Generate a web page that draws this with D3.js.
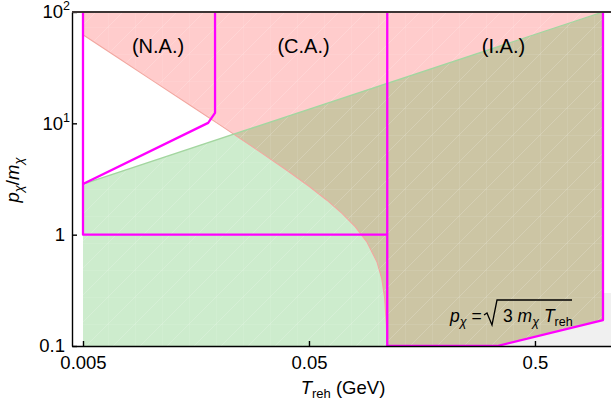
<!DOCTYPE html>
<html>
<head>
<meta charset="utf-8">
<script src="https://cdn.jsdelivr.net/npm/d3@7"></script>
<style>
body { margin: 0; background: #fff; }
svg { display: block; font-family: "Liberation Sans", Arial, Helvetica, sans-serif; }
.axis text { font-size: 18.5px; fill: #000; }
.axis path, .axis line { stroke: #000; stroke-width: 1.4; }
.mag { fill: none; stroke: #ff00ff; stroke-width: 2.3; stroke-linejoin: round; }
</style>
</head>
<body>
<svg id="chart" width="611" height="405"></svg>
<script>
// boundary of the red region [T_reh (GeV), p/m]
const redEdge = [[0.005, 62.4], [0.007, 39.8], [0.01, 24.7], [0.015, 14.4], [0.02, 9.78],
                 [0.03, 5.63], [0.04, 3.77], [0.05, 2.72], [0.06, 2.04], [0.07, 1.556],
                 [0.08, 1.181], [0.09, 0.866], [0.1, 0.567], [0.105, 0.40], [0.108, 0.275],
                 [0.11, 0.156], [0.1106, 0.1]];
// upper edge of the green region
const greenEdge = [[0.005, 2.85], [1, 100]];
// lower cut  p = sqrt(3 m T)
const cutEdge = [[0.34, 0.1], [1, 0.171]];

// magenta region outlines
const naOuter = [[0.005, 100], [0.005, 1], [0.111, 1]];
const naInner = [[0.005, 2.85], [0.0179, 10.1], [0.0192, 12.4], [0.0192, 100]];
const iaLeft = [[0.111, 100], [0.111, 0.1], [0.34, 0.1]];
const iaRight = [[0.34, 0.1], [1, 0.171], [1, 100]];

const xTicks = [0.005, 0.05, 0.5];
const xTickLabels = ["0.005", "0.05", "0.5"];
const yTicks = [0.1, 1, 10, 100];
const yTickLabels = ["0.1", "1", "10^1", "10^2"];

const regionNames = ["(N.A.)", "(C.A.)", "(I.A.)"];
const regionAt = [[0.01074, 42.8], [0.0473, 42.8], [0.3627, 42.8]];

const svg = d3.select("#chart");

let x = d3.scaleLog().domain([0.00447, 1.085]).range([72, 611]);
let y = d3.scaleLog().domain([0.1, 100]).range([346, 12]);

let line = d3.line().x(d => x(d[0])).y(d => y(d[1]));

let defs = svg.append("defs");
defs.append("clipPath").attr("id", "plotClip")
    .append("rect").attr("x", 72).attr("y", 12).attr("width", 611 - 72).attr("height", 346 - 12);

// red region: right of / above the red edge
let redPoly = redEdge.concat(cutEdge, [[1, 100], [0.005, 100]]);
// green region: below the green edge
let greenPoly = [[0.005, 0.1]].concat(greenEdge, cutEdge.slice().reverse());
// everything that is coloured (red or green)
let colouredPoly = redEdge.slice(0, 1).concat([[0.005, 0.1]], cutEdge, [[1, 100], [0.005, 100]]);

defs.append("clipPath").attr("id", "redClip")
    .append("path").attr("d", line(redPoly) + "Z");

let pat = defs.append("pattern").attr("id", "mesh")
    .attr("patternUnits", "userSpaceOnUse")
    .attr("width", 27).attr("height", 27);
pat.append("path")
    .attr("d", "M0,27L27,0M0,0L0,27M0,0L27,0")
    .attr("stroke", "#fff").attr("stroke-opacity", 0.22)
    .attr("stroke-width", 0.8).attr("fill", "none");

let plot = svg.append("g").attr("clip-path", "url(#plotClip)");

// light grey below the cut
plot.append("path")
    .attr("d", line([[0.34, 0.1], [1, 0.171], [1, 0.3], [1.09, 0.3], [1.09, 0.1]]) + "Z")
    .attr("fill", "#f0f0f0");

plot.append("path").attr("d", line(redPoly) + "Z").attr("fill", "#ffcccc");
plot.append("path").attr("d", line(greenPoly) + "Z").attr("fill", "#cdeccd");
plot.append("path").attr("d", line(greenPoly) + "Z")
    .attr("fill", "#ccc5a4").attr("clip-path", "url(#redClip)");

plot.append("path").attr("d", line(colouredPoly) + "Z").attr("fill", "url(#mesh)");

plot.append("path").attr("d", line(redEdge))
    .attr("fill", "none").attr("stroke", "#f2a7a0").attr("stroke-width", 1.1);
plot.append("path").attr("d", line(greenEdge))
    .attr("fill", "none").attr("stroke", "#a3d6a0").attr("stroke-width", 1.3);

[naOuter, naInner, iaLeft, iaRight].forEach(seg => {
    plot.append("path").attr("class", "mag").attr("d", line(seg));
});

// axes
let xAxis = d3.axisBottom(x).tickValues(xTicks)
    .tickSizeInner(-5).tickSizeOuter(0).tickPadding(10)
    .tickFormat((d, i) => xTickLabels[i]);
svg.append("g").attr("class", "axis").attr("transform", "translate(0,346)").call(xAxis);

let yAxis = d3.axisLeft(y).tickValues(yTicks)
    .tickSizeInner(-5).tickSizeOuter(0).tickPadding(7)
    .tickFormat((d, i) => yTickLabels[i]);
let gy = svg.append("g").attr("class", "axis").attr("transform", "translate(72,0)").call(yAxis);
gy.selectAll(".tick text").each(function (d, i) {
    let lab = yTickLabels[i];
    if (lab.indexOf("^") < 0) return;
    let parts = lab.split("^");
    let t = d3.select(this).text(null).attr("x", -2);
    t.append("tspan").text(parts[0]);
    t.append("tspan").attr("dy", -8).attr("font-size", 12.5).text(parts[1]);
});

// top frame line
svg.append("line").attr("x1", 72).attr("x2", 611).attr("y1", 12).attr("y2", 12)
    .attr("stroke", "#3c3535").attr("stroke-width", 2);

// region labels
regionNames.forEach((name, i) => {
    svg.append("text")
        .attr("x", x(regionAt[i][0])).attr("y", y(regionAt[i][1]))
        .attr("text-anchor", "middle").attr("font-size", 20)
        .text(name);
});

// x label
let xl = svg.append("text").attr("x", 343).attr("y", 394)
    .attr("text-anchor", "middle").attr("font-size", 18.5);
xl.append("tspan").attr("font-style", "italic").text("T");
xl.append("tspan").attr("font-size", 13).attr("dy", 4).text("reh");
xl.append("tspan").attr("dy", -4).text(" (GeV)");

// y label
let yl = svg.append("text").attr("transform", "translate(19,180) rotate(-90)")
    .attr("text-anchor", "middle").attr("font-size", 18.5);
yl.append("tspan").attr("font-style", "italic").text("p");
yl.append("tspan").attr("font-style", "italic").attr("font-size", 13).attr("dy", 4).text("χ");
yl.append("tspan").attr("dy", -4).text("/");
yl.append("tspan").attr("font-style", "italic").text("m");
yl.append("tspan").attr("font-style", "italic").attr("font-size", 13).attr("dy", 4).text("χ");

// formula  p = sqrt(3 m T)
let f1 = svg.append("text").attr("x", 450).attr("y", 322).attr("font-size", 17.5);
f1.append("tspan").attr("font-style", "italic").text("p");
f1.append("tspan").attr("font-style", "italic").attr("font-size", 12.5).attr("dy", 4).text("χ");
f1.append("tspan").attr("dy", -4).text(" =");
svg.append("path").attr("d", "M484,315L487,313L492,325L497,300L572,300")
    .attr("fill", "none").attr("stroke", "#000").attr("stroke-width", 1.3);
let f2 = svg.append("text").attr("x", 503).attr("y", 322).attr("font-size", 17.5);
f2.append("tspan").text("3 ");
f2.append("tspan").attr("font-style", "italic").text("m");
f2.append("tspan").attr("font-style", "italic").attr("font-size", 12.5).attr("dy", 4).text("χ");
f2.append("tspan").attr("dy", -4).text(" ");
f2.append("tspan").attr("font-style", "italic").text("T");
f2.append("tspan").attr("font-size", 12.5).attr("dy", 4).text("reh");
</script>
</body>
</html>
